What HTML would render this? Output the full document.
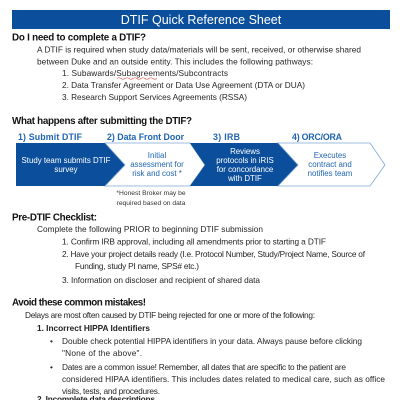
<!DOCTYPE html>
<html><head><meta charset="utf-8">
<style>
html,body{margin:0;padding:0;background:#fff;width:400px;height:400px;overflow:hidden}
svg{display:block}
text{font-family:"Liberation Sans",sans-serif;fill:#222}
.b{font-weight:bold}
.h{font-size:9.8px;font-weight:bold;fill:#111}
.t{font-size:8.3px;fill:#262626}
.s{font-size:8.8px;font-weight:bold;fill:#1f64b3}
.w{font-size:7.9px;fill:#fff}
.bl{font-size:7.9px;fill:#1f64b3}
</style></head>
<body>
<svg width="400" height="400" viewBox="0 0 400 400">
<rect x="12" y="10" width="378" height="19" fill="#0b4f9c"/>
<text x="201" y="24" text-anchor="middle" style="font-size:12.5px;fill:#fff">DTIF Quick Reference Sheet</text>

<text class="h" x="12" y="40.5" textLength="134">Do I need to complete a DTIF?</text>
<text class="t" x="37" y="52.5" textLength="324">A DTIF is required when study data/materials will be sent, received, or otherwise shared</text>
<text class="t" x="37" y="64.5" textLength="276">between Duke and an outside entity. This includes the following pathways:</text>
<text class="t" x="62" y="76" textLength="166">1. Subawards/Subagreements/Subcontracts</text>
<path d="M117 78.5 q2 -1.5 4 0 t4 0 t4 0 t4 0 t4 0 t4 0 t4 0 t4 0 t4 0 t4 0" stroke="#d33" stroke-width="0.6" fill="none"/>
<text class="t" x="62" y="88" textLength="243">2. Data Transfer Agreement or Data Use Agreement (DTA or DUA)</text>
<text class="t" x="62" y="100" textLength="185">3. Research Support Services Agreements (RSSA)</text>

<text class="h" x="12" y="124" textLength="180">What happens after submitting the DTIF?</text>
<text class="s" x="18" y="140" textLength="64">1) Submit DTIF</text>
<text class="s" x="107" y="140" textLength="77">2) Data Front Door</text>
<text class="s" x="213" y="140" textLength="27">3) IRB</text>
<text class="s" x="292" y="140" textLength="50">4) ORC/ORA</text>

<polygon points="16,143 105,143 125,165 105,186 16,186" fill="#0b4f9c"/>
<polygon points="105,143 190,143 205,165 190,186 105,186 125,165" fill="#fff" stroke="#7fa6d3" stroke-width="0.8"/>
<polygon points="190,143 278,143 298,165 278,186 190,186 205,165" fill="#0b4f9c"/>
<polygon points="278,143 370,143 385,165 370,186 278,186 298,165" fill="#fff" stroke="#7fa6d3" stroke-width="0.8"/>

<g text-anchor="middle">
<text class="w" x="66" y="163">Study team submits DTIF</text>
<text class="w" x="66" y="172">survey</text>
<text class="bl" x="157" y="158">Initial</text>
<text class="bl" x="157" y="167">assessment for</text>
<text class="bl" x="157" y="176">risk and cost *</text>
<text class="w" x="245" y="154">Reviews</text>
<text class="w" x="245" y="163">protocols in iRIS</text>
<text class="w" x="245" y="172">for concordance</text>
<text class="w" x="245" y="181">with DTIF</text>
<text class="bl" x="330" y="158">Executes</text>
<text class="bl" x="330" y="167">contract and</text>
<text class="bl" x="330" y="176">notifies team</text>
<text x="151" y="195" style="font-size:6.7px;fill:#333">*Honest Broker may be</text>
<text x="151" y="205" style="font-size:6.7px;fill:#333">required based on data</text>
</g>

<text class="h" x="12" y="220.5" textLength="85">Pre-DTIF Checklist:</text>
<text class="t" x="37" y="232" textLength="226">Complete the following PRIOR to beginning DTIF submission</text>
<text class="t" x="62" y="244.5" textLength="264">1. Confirm IRB approval, including all amendments prior to starting a DTIF</text>
<text class="t" x="62" y="257" textLength="303">2. Have your project details ready (I.e. Protocol Number, Study/Project Name, Source of</text>
<text class="t" x="75" y="269" textLength="124">Funding, study PI name, SPS# etc.)</text>
<text class="t" x="62" y="283" textLength="198">3. Information on discloser and recipient of shared data</text>

<text class="h" x="12" y="305.5" textLength="134">Avoid these common mistakes!</text>
<text class="t" x="25" y="318" textLength="290">Delays are most often caused by DTIF being rejected for one or more of the following:</text>
<text class="t b" x="37" y="331" textLength="113" style="fill:#222">1. Incorrect HIPPA Identifiers</text>
<text class="t" x="50" y="344">•</text>
<text class="t" x="62" y="344" textLength="300">Double check potential HIPPA identifiers in your data. Always pause before clicking</text>
<text class="t" x="62" y="356" textLength="80">"None of the above".</text>
<text class="t" x="50" y="370">•</text>
<text class="t" x="62" y="370" textLength="284">Dates are a common issue! Remember, all dates that are specific to the patient are</text>
<text class="t" x="62" y="382" textLength="323">considered HIPAA identifiers. This includes dates related to medical care, such as office</text>
<text class="t" x="62" y="394" textLength="98">visits, tests, and procedures.</text>
<text class="t b" x="37" y="402" textLength="118" style="fill:#222">2. Incomplete data descriptions</text>
</svg>
</body></html>
